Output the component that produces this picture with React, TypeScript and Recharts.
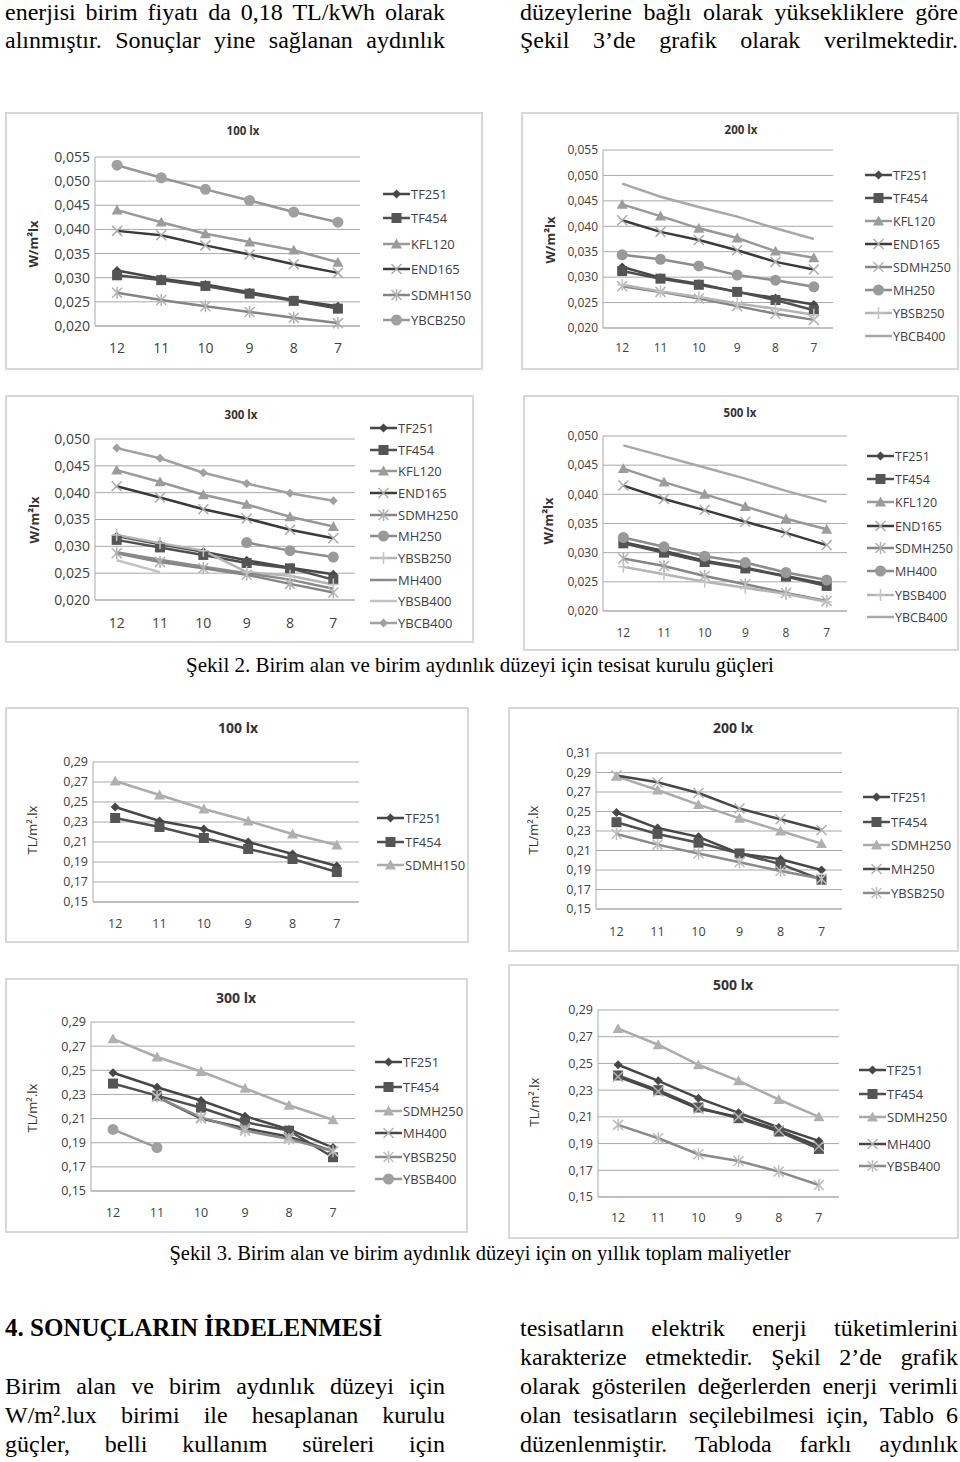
import { LineChart, Line, XAxis, YAxis, CartesianGrid } from "recharts";

const HEIGHTS = ["12", "11", "10", "9", "8", "7"];

const W_TICKS_55 = [0.02, 0.025, 0.03, 0.035, 0.04, 0.045, 0.05, 0.055];
const W_TICKS_50 = [0.02, 0.025, 0.03, 0.035, 0.04, 0.045, 0.05];
const TL_TICKS_29 = [0.15, 0.17, 0.19, 0.21, 0.23, 0.25, 0.27, 0.29];
const TL_TICKS_31 = [0.15, 0.17, 0.19, 0.21, 0.23, 0.25, 0.27, 0.29, 0.31];

// Şekil 2 - installed power, W/m²lx
const w100_TF251 = [0.0315, 0.0298, 0.0286, 0.027, 0.0254, 0.0241];
const w100_TF454 = [0.0305, 0.0295, 0.0283, 0.0267, 0.0252, 0.0236];
const w100_KFL120 = [0.044, 0.0415, 0.0391, 0.0374, 0.0357, 0.0332];
const w100_END165 = [0.0397, 0.0388, 0.0367, 0.0348, 0.0328, 0.031];
const w100_SDMH150 = [0.0269, 0.0254, 0.0241, 0.0229, 0.0217, 0.0206];
const w100_YBCB250 = [0.0533, 0.0507, 0.0483, 0.046, 0.0436, 0.0415];

const w200_TF251 = [0.032, 0.0299, 0.0287, 0.0271, 0.0259, 0.0246];
const w200_TF454 = [0.0312, 0.0297, 0.0285, 0.0271, 0.0255, 0.0235];
const w200_KFL120 = [0.0443, 0.042, 0.0396, 0.0377, 0.0351, 0.0338];
const w200_END165 = [0.0412, 0.0389, 0.0373, 0.0353, 0.033, 0.0315];
const w200_SDMH250 = [0.0282, 0.0271, 0.0258, 0.0243, 0.0228, 0.0216];
const w200_MH250 = [0.0344, 0.0335, 0.0322, 0.0304, 0.0294, 0.0281];
const w200_YBSB250 = [0.0285, 0.0272, 0.0261, 0.0248, 0.0238, 0.0226];
const w200_YBCB400 = [0.0484, 0.0458, 0.0438, 0.0419, 0.0396, 0.0375];

const w300_TF251 = [0.0319, 0.0304, 0.029, 0.0274, 0.026, 0.0248];
const w300_TF454 = [0.0312, 0.0298, 0.0284, 0.0269, 0.0259, 0.0238];
const w300_KFL120 = [0.0442, 0.042, 0.0396, 0.0378, 0.0355, 0.0337];
const w300_END165 = [0.0412, 0.0391, 0.0369, 0.0352, 0.0331, 0.0315];
const w300_SDMH250 = [0.0287, 0.0271, 0.0259, 0.0247, 0.023, 0.0214];
const w300_MH250 = [null, null, null, 0.0307, 0.0292, 0.028];
const w300_YBSB250 = [0.0321, 0.0306, 0.0292, 0.0252, 0.0245, 0.0229];
const w300_MH400 = [0.0289, 0.0275, 0.0262, 0.025, 0.0238, 0.0221];
const w300_YBSB400 = [0.0274, 0.0252, null, null, null, null];
const w300_YBCB400 = [0.0483, 0.0464, 0.0437, 0.0417, 0.0399, 0.0385];

const w500_TF251 = [0.0318, 0.0303, 0.0286, 0.0274, 0.026, 0.0246];
const w500_TF454 = [0.0316, 0.03, 0.0284, 0.0273, 0.0259, 0.0243];
const w500_KFL120 = [0.0444, 0.0421, 0.04, 0.0379, 0.0358, 0.034];
const w500_END165 = [0.0415, 0.0392, 0.0373, 0.0353, 0.0334, 0.0313];
const w500_SDMH250 = [0.029, 0.0277, 0.026, 0.0246, 0.0231, 0.0217];
const w500_MH400 = [0.0326, 0.031, 0.0294, 0.0283, 0.0266, 0.0253];
const w500_YBSB400 = [0.0276, 0.0263, 0.025, 0.024, 0.0229, 0.0216];
const w500_YBCB400 = [0.0484, 0.0465, 0.0446, 0.0427, 0.0406, 0.0387];

// Şekil 3 - ten year total cost, TL/m².lx
const c100_TF251 = [0.245, 0.231, 0.223, 0.21, 0.198, 0.186];
const c100_TF454 = [0.234, 0.225, 0.214, 0.203, 0.193, 0.18];
const c100_SDMH150 = [0.271, 0.257, 0.243, 0.231, 0.218, 0.207];

const c200_TF251 = [0.249, 0.233, 0.224, 0.207, 0.201, 0.19];
const c200_TF454 = [0.239, 0.227, 0.218, 0.207, 0.196, 0.18];
const c200_SDMH250 = [0.286, 0.272, 0.257, 0.243, 0.23, 0.217];
const c200_MH250 = [0.287, 0.28, 0.269, 0.253, 0.242, 0.231];
const c200_YBSB250 = [0.227, 0.216, 0.207, 0.198, 0.189, 0.181];

const c300_TF251 = [0.248, 0.236, 0.225, 0.212, 0.201, 0.186];
const c300_TF454 = [0.239, 0.229, 0.219, 0.207, 0.2, 0.178];
const c300_SDMH250 = [0.276, 0.261, 0.249, 0.235, 0.221, 0.209];
const c300_MH400 = [null, 0.228, 0.21, 0.202, 0.195, 0.183];
const c300_YBSB250 = [null, 0.228, 0.211, 0.2, 0.193, 0.183];
const c300_YBSB400 = [0.201, 0.186, null, null, null, null];

const c500_TF251 = [0.249, 0.237, 0.224, 0.213, 0.202, 0.192];
const c500_TF454 = [0.241, 0.23, 0.217, 0.209, 0.199, 0.186];
const c500_SDMH250 = [0.276, 0.264, 0.249, 0.237, 0.223, 0.21];
const c500_MH400 = [0.24, 0.229, 0.216, 0.21, 0.2, 0.188];
const c500_YBSB400 = [0.204, 0.194, 0.182, 0.177, 0.169, 0.159];

type Marker = "diamond" | "square" | "triangle" | "x" | "star" | "plus" | "circle" | "none";

interface Series {
  name: string;
  values: (number | null)[];
  stroke: string;
  marker: Marker;
  mcolor: string;
  size: number;
}

const CHART_FONT = "'Open Sans', sans-serif";
const SERIF = "'Liberation Serif', 'Times New Roman', serif";
const TEXT = "#404040";
const GRID = "#a9a9a9";

// marker looks, roughly as in the scanned Excel charts
const tf251 = (v: (number | null)[]): Series => ({ name: "TF251", values: v, stroke: "#474747", marker: "diamond", mcolor: "#474747", size: 4.5 });
const tf454 = (v: (number | null)[]): Series => ({ name: "TF454", values: v, stroke: "#4f4f4f", marker: "square", mcolor: "#555555", size: 5 });
const kfl120 = (v: (number | null)[]): Series => ({ name: "KFL120", values: v, stroke: "#989898", marker: "triangle", mcolor: "#9c9c9c", size: 5.5 });
const end165 = (v: (number | null)[]): Series => ({ name: "END165", values: v, stroke: "#3a3a3a", marker: "x", mcolor: "#ababab", size: 5 });
const mk = (name: string, v: (number | null)[], stroke: string, marker: Marker, mcolor: string, size = 5): Series => ({ name, values: v, stroke, marker, mcolor, size });

function drawMarker(m: Marker, cx: number, cy: number, color: string, s: number, key: string) {
  switch (m) {
    case "diamond":
      return <path key={key} d={`M${cx},${cy - s}L${cx + s},${cy}L${cx},${cy + s}L${cx - s},${cy}Z`} fill={color} />;
    case "square":
      return <rect key={key} x={cx - s} y={cy - s} width={2 * s} height={2 * s} fill={color} />;
    case "triangle":
      return <path key={key} d={`M${cx},${cy - s}L${cx + s},${cy + s * 0.8}L${cx - s},${cy + s * 0.8}Z`} fill={color} />;
    case "circle":
      return <circle key={key} cx={cx} cy={cy} r={s} fill={color} />;
    case "x":
      return <path key={key} d={`M${cx - s},${cy - s}L${cx + s},${cy + s}M${cx - s},${cy + s}L${cx + s},${cy - s}`} stroke={color} strokeWidth={1.5} fill="none" />;
    case "star":
      return <path key={key} d={`M${cx - s},${cy - s}L${cx + s},${cy + s}M${cx - s},${cy + s}L${cx + s},${cy - s}M${cx},${cy - s * 1.2}L${cx},${cy + s * 1.2}`} stroke={color} strokeWidth={1.5} fill="none" />;
    case "plus":
      return <path key={key} d={`M${cx - s},${cy}L${cx + s},${cy}M${cx},${cy - s * 1.2}L${cx},${cy + s * 1.2}`} stroke={color} strokeWidth={1.5} fill="none" />;
    default:
      return <g key={key} />;
  }
}

interface PanelSpec {
  frame: [number, number, number, number];
  plot: [number, number, number, number];
  title: string;
  titleAt: [number, number];
  titleSize: number;
  yLabel: string;
  yLabelAt: [number, number];
  yLabelBold: boolean;
  domain: [number, number];
  ticks: number[];
  decimals: number;
  tickSize: number;
  xLabelY: number;
  legendX: number;
  legendYs: number[];
  legendSize: number;
  series: Series[];
}

function Panel({ p }: { p: PanelSpec }) {
  const [x0, y0, x1, y1] = p.frame;
  const [l, t, r, b] = p.plot;
  const w = x1 - x0;
  const h = y1 - y0;
  const rows = HEIGHTS.map((hgt, i) => {
    const row: Record<string, string | number | null> = { h: hgt };
    p.series.forEach((s) => (row[s.name] = s.values[i]));
    return row;
  });
  const half = (r - l) / 12;
  const fmt = (v: number) => v.toFixed(p.decimals).replace(".", ",");
  const tickStyle = { fontSize: p.tickSize, fill: TEXT, fontFamily: CHART_FONT };
  const tickMargin = Math.max(0, p.xLabelY - b - p.tickSize * 0.36);

  return (
    <>
      <div style={{ position: "absolute", left: x0, top: y0, width: w, height: h, border: "2px solid #d8d8d8", boxSizing: "border-box", background: "#fff" }} />
      <div style={{ position: "absolute", left: x0, top: y0 }}>
        <LineChart width={w} height={h} data={rows} margin={{ top: t - y0, right: x1 - r, bottom: y1 - b - 30, left: 0 }}>
          <CartesianGrid horizontal vertical={false} stroke={GRID} />
          <XAxis
            dataKey="h"
            height={30}
            padding={{ left: half, right: half }}
            tickLine={false}
            tickSize={0}
            tickMargin={tickMargin}
            axisLine={{ stroke: GRID }}
            tick={tickStyle}
            interval={0}
          />
          <YAxis
            type="number"
            width={l - x0}
            domain={p.domain}
            ticks={p.ticks}
            tickFormatter={fmt}
            tickLine={false}
            tickSize={0}
            tickMargin={5}
            axisLine={{ stroke: GRID }}
            tick={tickStyle}
            interval={0}
          />
          {p.series.map((s) => (
            <Line
              key={s.name}
              dataKey={s.name}
              type="linear"
              stroke={s.stroke}
              strokeWidth={2.5}
              connectNulls={false}
              isAnimationActive={false}
              activeDot={false}
              dot={(d: any) =>
                d.cy == null || d.value == null
                  ? <g key={`${s.name}-${d.index}`} />
                  : drawMarker(s.marker, d.cx, d.cy, s.mcolor, s.size, `${s.name}-${d.index}`)
              }
            />
          ))}
        </LineChart>
      </div>
      <div style={{ position: "absolute", left: p.titleAt[0], top: p.titleAt[1], transform: "translate(-50%,-50%)", fontFamily: CHART_FONT, fontWeight: 700, fontSize: p.titleSize, color: "#333", whiteSpace: "nowrap", lineHeight: 1 }}>
        {p.title}
      </div>
      <div style={{ position: "absolute", left: p.yLabelAt[0], top: p.yLabelAt[1], transform: "translate(-50%,-50%) rotate(-90deg)", fontFamily: CHART_FONT, fontWeight: p.yLabelBold ? 700 : 400, fontSize: 13, color: "#333", whiteSpace: "nowrap", lineHeight: 1 }}>
        {p.yLabel}
      </div>
      {p.series.map((s, i) => (
        <div key={s.name} style={{ position: "absolute", left: p.legendX, top: p.legendYs[i] - 8, height: 16, display: "flex", alignItems: "center", fontFamily: CHART_FONT, fontSize: p.legendSize, color: TEXT, whiteSpace: "nowrap" }}>
          <svg width={27} height={14} style={{ display: "block", marginRight: 1 }}>
            <line x1={0} y1={7} x2={27} y2={7} stroke={s.stroke} strokeWidth={2.5} />
            {drawMarker(s.marker, 13.5, 7, s.mcolor, s.size, "m")}
          </svg>
          <span>{s.name}</span>
        </div>
      ))}
    </>
  );
}

const panels: PanelSpec[] = [
  {
    frame: [5, 112, 483, 370], plot: [95, 157, 360, 326], title: "100 lx", titleAt: [243, 131], titleSize: 11.5,
    yLabel: "W/m²lx", yLabelAt: [33, 244], yLabelBold: true, domain: [0.02, 0.055], ticks: W_TICKS_55, decimals: 3,
    tickSize: 14, xLabelY: 348, legendX: 383, legendYs: [194, 218, 244, 269, 295, 320], legendSize: 13,
    series: [
      tf251(w100_TF251), tf454(w100_TF454), kfl120(w100_KFL120), end165(w100_END165),
      mk("SDMH150", w100_SDMH150, "#858585", "star", "#b0b0b0"),
      mk("YBCB250", w100_YBCB250, "#969696", "circle", "#a0a0a0", 5.5),
    ],
  },
  {
    frame: [521, 112, 959, 370], plot: [603, 150, 833, 328], title: "200 lx", titleAt: [741, 130], titleSize: 11.5,
    yLabel: "W/m²lx", yLabelAt: [550, 240], yLabelBold: true, domain: [0.02, 0.055], ticks: W_TICKS_55, decimals: 3,
    tickSize: 12, xLabelY: 348, legendX: 865, legendYs: [175, 198, 221, 244, 267, 290, 313, 336], legendSize: 12.5,
    series: [
      tf251(w200_TF251), tf454(w200_TF454), kfl120(w200_KFL120), end165(w200_END165),
      mk("SDMH250", w200_SDMH250, "#858585", "x", "#b5b5b5"),
      mk("MH250", w200_MH250, "#8c8c8c", "circle", "#999999", 5.5),
      mk("YBSB250", w200_YBSB250, "#b4b4b4", "plus", "#c4c4c4"),
      mk("YBCB400", w200_YBCB400, "#a8a8a8", "none", "#a8a8a8"),
    ],
  },
  {
    frame: [5, 395, 474, 643], plot: [95, 439, 355, 600], title: "300 lx", titleAt: [241, 415], titleSize: 11.5,
    yLabel: "W/m²lx", yLabelAt: [34, 520], yLabelBold: true, domain: [0.02, 0.05], ticks: W_TICKS_50, decimals: 3,
    tickSize: 14, xLabelY: 623, legendX: 370, legendYs: [428, 450, 471, 493, 515, 536, 558, 580, 601, 623], legendSize: 13,
    series: [
      tf251(w300_TF251), tf454(w300_TF454), kfl120(w300_KFL120), end165(w300_END165),
      mk("SDMH250", w300_SDMH250, "#858585", "star", "#b0b0b0"),
      mk("MH250", w300_MH250, "#8c8c8c", "circle", "#999999", 5.5),
      mk("YBSB250", w300_YBSB250, "#b4b4b4", "plus", "#c4c4c4"),
      mk("MH400", w300_MH400, "#8a8a8a", "none", "#8a8a8a"),
      mk("YBSB400", w300_YBSB400, "#c2c2c2", "none", "#c2c2c2"),
      mk("YBCB400", w300_YBCB400, "#a0a0a0", "diamond", "#a0a0a0", 4.5),
    ],
  },
  {
    frame: [523, 395, 959, 651], plot: [603, 436, 847, 611], title: "500 lx", titleAt: [740, 413], titleSize: 11.5,
    yLabel: "W/m²lx", yLabelAt: [548, 521], yLabelBold: true, domain: [0.02, 0.05], ticks: W_TICKS_50, decimals: 3,
    tickSize: 12, xLabelY: 633, legendX: 867, legendYs: [456, 479, 502, 526, 548, 571, 595, 617], legendSize: 12.5,
    series: [
      tf251(w500_TF251), tf454(w500_TF454), kfl120(w500_KFL120), end165(w500_END165),
      mk("SDMH250", w500_SDMH250, "#858585", "star", "#b0b0b0"),
      mk("MH400", w500_MH400, "#8c8c8c", "circle", "#999999", 5.5),
      mk("YBSB400", w500_YBSB400, "#b4b4b4", "plus", "#c4c4c4"),
      mk("YBCB400", w500_YBCB400, "#a8a8a8", "none", "#a8a8a8"),
    ],
  },
  {
    frame: [5, 707, 469, 943], plot: [93, 762, 359, 902], title: "100 lx", titleAt: [238, 728], titleSize: 14,
    yLabel: "TL/m².lx", yLabelAt: [32, 830], yLabelBold: false, domain: [0.15, 0.29], ticks: TL_TICKS_29, decimals: 2,
    tickSize: 12.5, xLabelY: 924, legendX: 377, legendYs: [818, 842, 865], legendSize: 13,
    series: [
      tf251(c100_TF251), tf454(c100_TF454),
      mk("SDMH150", c100_SDMH150, "#ababab", "triangle", "#b0b0b0", 5.5),
    ],
  },
  {
    frame: [508, 707, 959, 952], plot: [596, 753, 842, 909], title: "200 lx", titleAt: [733, 728], titleSize: 14,
    yLabel: "TL/m².lx", yLabelAt: [533, 830], yLabelBold: false, domain: [0.15, 0.31], ticks: TL_TICKS_31, decimals: 2,
    tickSize: 12.5, xLabelY: 932, legendX: 863, legendYs: [797, 822, 845, 869, 893], legendSize: 13,
    series: [
      tf251(c200_TF251), tf454(c200_TF454),
      mk("SDMH250", c200_SDMH250, "#ababab", "triangle", "#b0b0b0", 5.5),
      mk("MH250", c200_MH250, "#474747", "x", "#b0b0b0"),
      mk("YBSB250", c200_YBSB250, "#8a8a8a", "star", "#bdbdbd"),
    ],
  },
  {
    frame: [5, 978, 468, 1233], plot: [91, 1022, 355, 1191], title: "300 lx", titleAt: [236, 998], titleSize: 14,
    yLabel: "TL/m².lx", yLabelAt: [32, 1108], yLabelBold: false, domain: [0.15, 0.29], ticks: TL_TICKS_29, decimals: 2,
    tickSize: 12.5, xLabelY: 1213, legendX: 375, legendYs: [1062, 1087, 1111, 1133, 1157, 1179], legendSize: 13,
    series: [
      tf251(c300_TF251), tf454(c300_TF454),
      mk("SDMH250", c300_SDMH250, "#ababab", "triangle", "#b0b0b0", 5.5),
      mk("MH400", c300_MH400, "#474747", "x", "#b0b0b0"),
      mk("YBSB250", c300_YBSB250, "#8a8a8a", "star", "#bdbdbd"),
      mk("YBSB400", c300_YBSB400, "#9a9a9a", "circle", "#a0a0a0", 5.5),
    ],
  },
  {
    frame: [508, 964, 959, 1239], plot: [598, 1010, 839, 1197], title: "500 lx", titleAt: [733, 985], titleSize: 14,
    yLabel: "TL/m².lx", yLabelAt: [534, 1102], yLabelBold: false, domain: [0.15, 0.29], ticks: TL_TICKS_29, decimals: 2,
    tickSize: 12.5, xLabelY: 1218, legendX: 859, legendYs: [1070, 1094, 1117, 1144, 1166], legendSize: 13,
    series: [
      tf251(c500_TF251), tf454(c500_TF454),
      mk("SDMH250", c500_SDMH250, "#ababab", "triangle", "#b0b0b0", 5.5),
      mk("MH400", c500_MH400, "#474747", "x", "#b0b0b0"),
      mk("YBSB400", c500_YBSB400, "#8a8a8a", "star", "#bdbdbd"),
    ],
  },
];

function TextLine({ x, w, y, text, size = 24, bold = false, justify = true }: { x: number; w: number; y: number; text: string; size?: number; bold?: boolean; justify?: boolean }) {
  return (
    <div
      style={{
        position: "absolute", left: x, top: y - 15, width: w, height: 30, lineHeight: "30px",
        fontFamily: SERIF, fontSize: size, fontWeight: bold ? 700 : 400, color: "#000",
        textAlign: justify ? "justify" : "left", textAlignLast: justify ? "justify" : "left", whiteSpace: "nowrap",
      }}
    >
      {text}
    </div>
  );
}

function Caption({ y, text, size = 21 }: { y: number; text: string; size?: number }) {
  return (
    <div style={{ position: "absolute", left: 0, width: 960, top: y - 13, height: 26, lineHeight: "26px", textAlign: "center", fontFamily: SERIF, fontSize: size, color: "#000" }}>
      {text}
    </div>
  );
}

export default function App() {
  return (
    <div style={{ position: "absolute", left: 0, top: 0, width: 960, height: 1462, background: "#fff", overflow: "hidden" }}>
      <TextLine x={5} w={440} y={12} text="enerjisi birim fiyatı da 0,18 TL/kWh olarak" />
      <TextLine x={5} w={440} y={40} text="alınmıştır. Sonuçlar yine sağlanan aydınlık" />
      <TextLine x={520} w={438} y={12} text="düzeylerine bağlı olarak yüksekliklere göre" />
      <TextLine x={520} w={438} y={40} text="Şekil 3’de grafik olarak verilmektedir." />

      {panels.slice(0, 4).map((p, i) => <Panel key={i} p={p} />)}
      <Caption y={665} text="Şekil 2. Birim alan ve birim aydınlık düzeyi için tesisat kurulu güçleri" />

      {panels.slice(4).map((p, i) => <Panel key={i + 4} p={p} />)}
      <Caption y={1253} size={20.5} text="Şekil 3. Birim alan ve birim aydınlık düzeyi için on yıllık toplam maliyetler" />

      <TextLine x={5} w={440} y={1328} size={25} text="4. SONUÇLARIN İRDELENMESİ" bold justify={false} />
      <TextLine x={5} w={440} y={1386} text="Birim alan ve birim aydınlık düzeyi için" />
      <TextLine x={5} w={440} y={1415} text="W/m².lux birimi ile hesaplanan kurulu" />
      <TextLine x={5} w={440} y={1444} text="güçler, belli kullanım süreleri için" />

      <TextLine x={520} w={438} y={1328} text="tesisatların elektrik enerji tüketimlerini" />
      <TextLine x={520} w={438} y={1357} text="karakterize etmektedir. Şekil 2’de grafik" />
      <TextLine x={520} w={438} y={1386} text="olarak gösterilen değerlerden enerji verimli" />
      <TextLine x={520} w={438} y={1415} text="olan tesisatların seçilebilmesi için, Tablo 6" />
      <TextLine x={520} w={438} y={1444} text="düzenlenmiştir. Tabloda farklı aydınlık" />
    </div>
  );
}
